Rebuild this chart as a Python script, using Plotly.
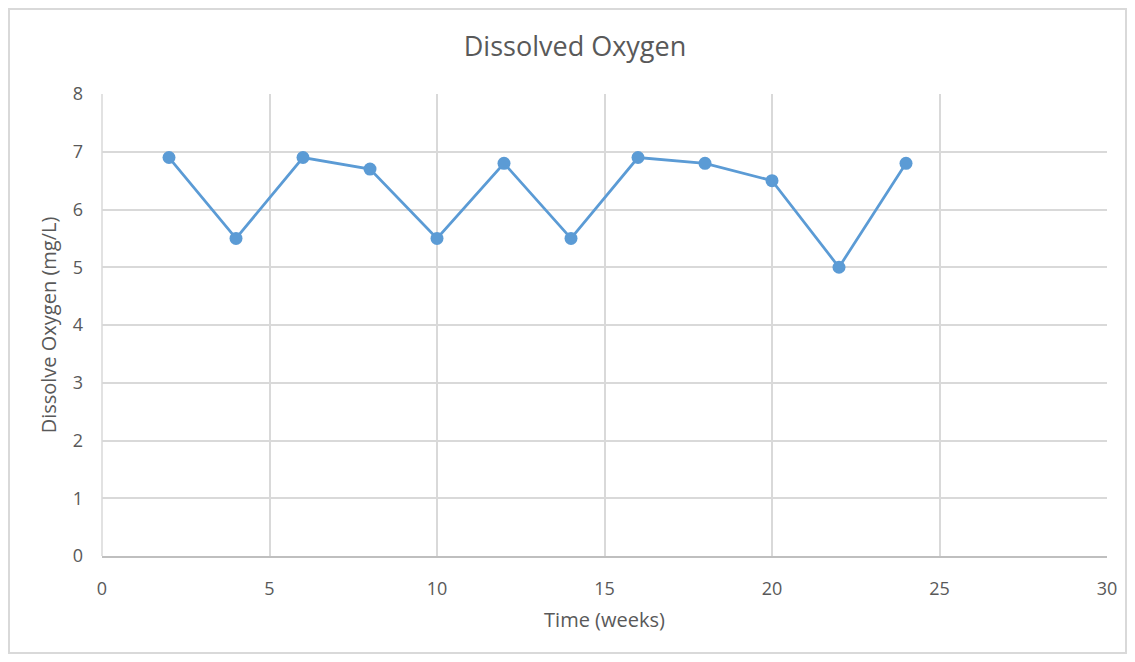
import plotly.graph_objects as go

weeks = [2, 4, 6, 8, 10, 12, 14, 16, 18, 20, 22, 24]
oxygen = [6.9, 5.5, 6.9, 6.7, 5.5, 6.8, 5.5, 6.9, 6.8, 6.5, 5.0, 6.8]

# page body has an 8px margin; shrink the figure so it fits the window
OFF = 8
W, H = 1135 - 2 * OFF, 662 - 2 * OFF
L, T = 102 - OFF, 94 - OFF
R = W - (1107 - OFF)
B = H - (556 - OFF)
pw, ph = W - L - R, H - T - B


def px_x(p):
    return (p - OFF - L) / pw


def px_y(p):
    return (H - B - (p - OFF)) / ph


fig = go.Figure(go.Scatter(
    x=weeks,
    y=oxygen,
    mode="lines+markers",
    line=dict(color="#5B9BD5", width=2.75),
    marker=dict(color="#5B9BD5", size=13),
))

font = "Open Sans, Noto Sans, sans-serif"
fig.update_layout(
    width=W,
    height=H,
    margin=dict(l=L, r=R, t=T, b=B),
    paper_bgcolor="white",
    plot_bgcolor="white",
    showlegend=False,
    font=dict(family=font, color="#595959", size=18),
    title=dict(text="Dissolved Oxygen", xref="paper", x=px_x(575), xanchor="center",
               y=1 - (47 - OFF) / H, yanchor="middle",
               font=dict(size=27, color="#595959")),
    xaxis=dict(
        range=[0, 30], dtick=5, tick0=0, automargin=False,
        showgrid=True, gridcolor="#d9d9d9", gridwidth=1.5,
        zeroline=False, showline=True, linecolor="#bfbfbf", linewidth=1.5,
        ticks="", ticklabelstandoff=16,
        title=dict(text="Time (weeks)", standoff=14, font=dict(size=20)),
    ),
    yaxis=dict(
        range=[0, 8], dtick=1, tick0=0, automargin=False,
        showgrid=True, gridcolor="#d9d9d9", gridwidth=1.5,
        zeroline=False, showline=False,
        ticks="", ticklabelstandoff=18,
        title=dict(text="Dissolve Oxygen (mg/L)", standoff=10, font=dict(size=20)),
    ),
    shapes=[
        dict(type="line", xref="paper", yref="paper", x0=0, x1=0, y0=0, y1=1,
             line=dict(color="#d9d9d9", width=1.5)),
        dict(type="rect", xref="paper", yref="paper",
             x0=px_x(OFF + 1), x1=px_x(OFF + W - 1), y0=px_y(OFF + H - 1), y1=px_y(OFF + 1),
             line=dict(color="#d9d9d9", width=2), layer="below"),
    ],
)

fig.write_html("out.html")
